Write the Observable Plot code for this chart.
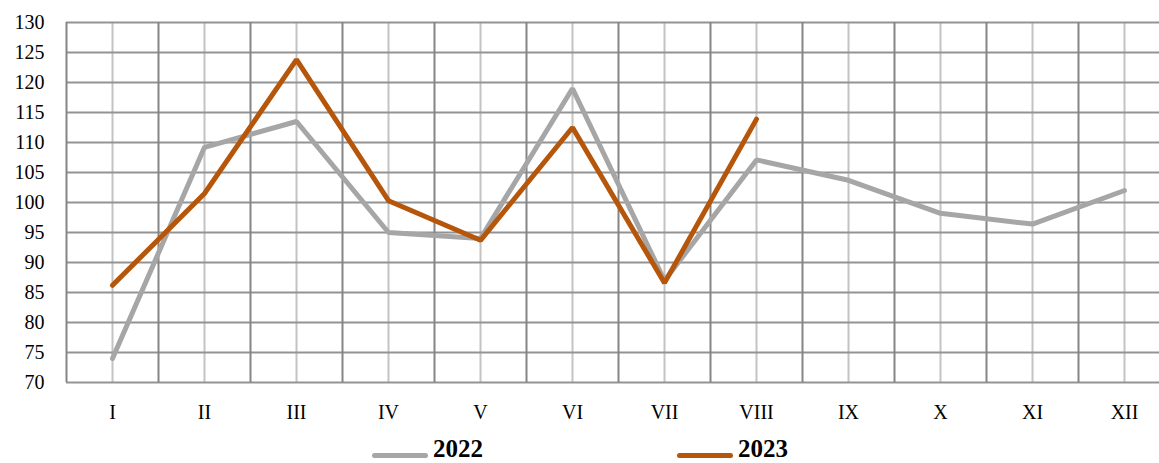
<!DOCTYPE html>
<html>
<head>
<meta charset="utf-8">
<script src="https://cdn.jsdelivr.net/npm/d3@7"></script>
<script src="https://cdn.jsdelivr.net/npm/@observablehq/plot@0.6"></script>
<style>
  html, body { margin: 0; padding: 0; background: #fff; overflow: hidden; width: 1159px; height: 463px; }
  #wrap { position: relative; width: 1159px; height: 463px; overflow: hidden; font-family: "Liberation Serif", "Times New Roman", serif; }
  #chart svg { display: block; overflow: hidden; }
  #legend { position: absolute; left: 0; top: 436px; width: 1159px; height: 27px; }
  .item { position: absolute; top: 0; height: 27px; display: flex; align-items: flex-start; }
  .swatch { width: 56px; height: 5px; border-radius: 3px; margin-top: 17px; margin-right: 5px; }
  .lab { font-weight: bold; font-size: 25px; line-height: 25px; margin-top: 0px; color: #000; }
</style>
</head>
<body>
<div id="wrap">
  <div id="chart"></div>
  <div id="legend"></div>
</div>
<script>
const months = ["I","II","III","IV","V","VI","VII","VIII","IX","X","XI","XII"];
const values2022 = [74, 109.2, 113.5, 95, 94, 119, 87, 107.1, 103.7, 98.2, 96.4, 102];
const values2023 = [86.2, 101.5, 123.8, 100.3, 93.7, 112.5, 86.6, 113.9];
const yTicks = [70, 75, 80, 85, 90, 95, 100, 105, 110, 115, 120, 125, 130];
const seriesNames = ["2022", "2023"];
const seriesColors = ["#a6a6a6", "#b5560b"];

const idx = months.map((m, i) => i + 1);
const boundaries = d3.range(0.5, months.length + 1, 1);
const rows2022 = values2022.map((v, i) => ({ x: i + 1, y: v }));
const rows2023 = values2023.map((v, i) => ({ x: i + 1, y: v }));

const chart = Plot.plot({
  width: 1159,
  height: 436,
  marginTop: 22,
  marginBottom: 54,
  marginLeft: 66,
  marginRight: 0,
  style: { fontFamily: "'Liberation Serif', 'Times New Roman', serif", fontSize: "20px", background: "#fff", color: "#000" },
  x: { type: "linear", domain: [0.5, months.length + 0.5], range: [66, 1170] },
  y: { domain: [70, 130] },
  marks: [
    Plot.ruleX(idx, { stroke: "#c3c3c3", strokeWidth: 2 }),
    Plot.ruleY(yTicks, { stroke: "#939393", strokeWidth: 2 }),
    Plot.ruleX(boundaries, { stroke: "#858585", strokeWidth: 2 }),
    Plot.axisY({ ticks: yTicks, tickSize: 0, tickPadding: 22, fontSize: 20, label: null }),
    Plot.axisX({ ticks: idx, tickFormat: d => months[d - 1], tickSize: 0, tickPadding: 22, fontSize: 20, label: null }),
    Plot.line(rows2022, { x: "x", y: "y", stroke: seriesColors[0], strokeWidth: 5, strokeLinejoin: "miter", strokeLinecap: "round" }),
    Plot.line(rows2023, { x: "x", y: "y", stroke: seriesColors[1], strokeWidth: 5, strokeLinejoin: "miter", strokeLinecap: "round" })
  ]
});
document.getElementById("chart").appendChild(chart);

const legend = document.getElementById("legend");
const lefts = [372, 677];
seriesNames.forEach((name, i) => {
  const item = document.createElement("div");
  item.className = "item";
  item.style.left = lefts[i] + "px";
  const sw = document.createElement("div");
  sw.className = "swatch";
  sw.style.background = seriesColors[i];
  const lab = document.createElement("div");
  lab.className = "lab";
  lab.textContent = name;
  item.appendChild(sw);
  item.appendChild(lab);
  legend.appendChild(item);
});
</script>
</body>
</html>
